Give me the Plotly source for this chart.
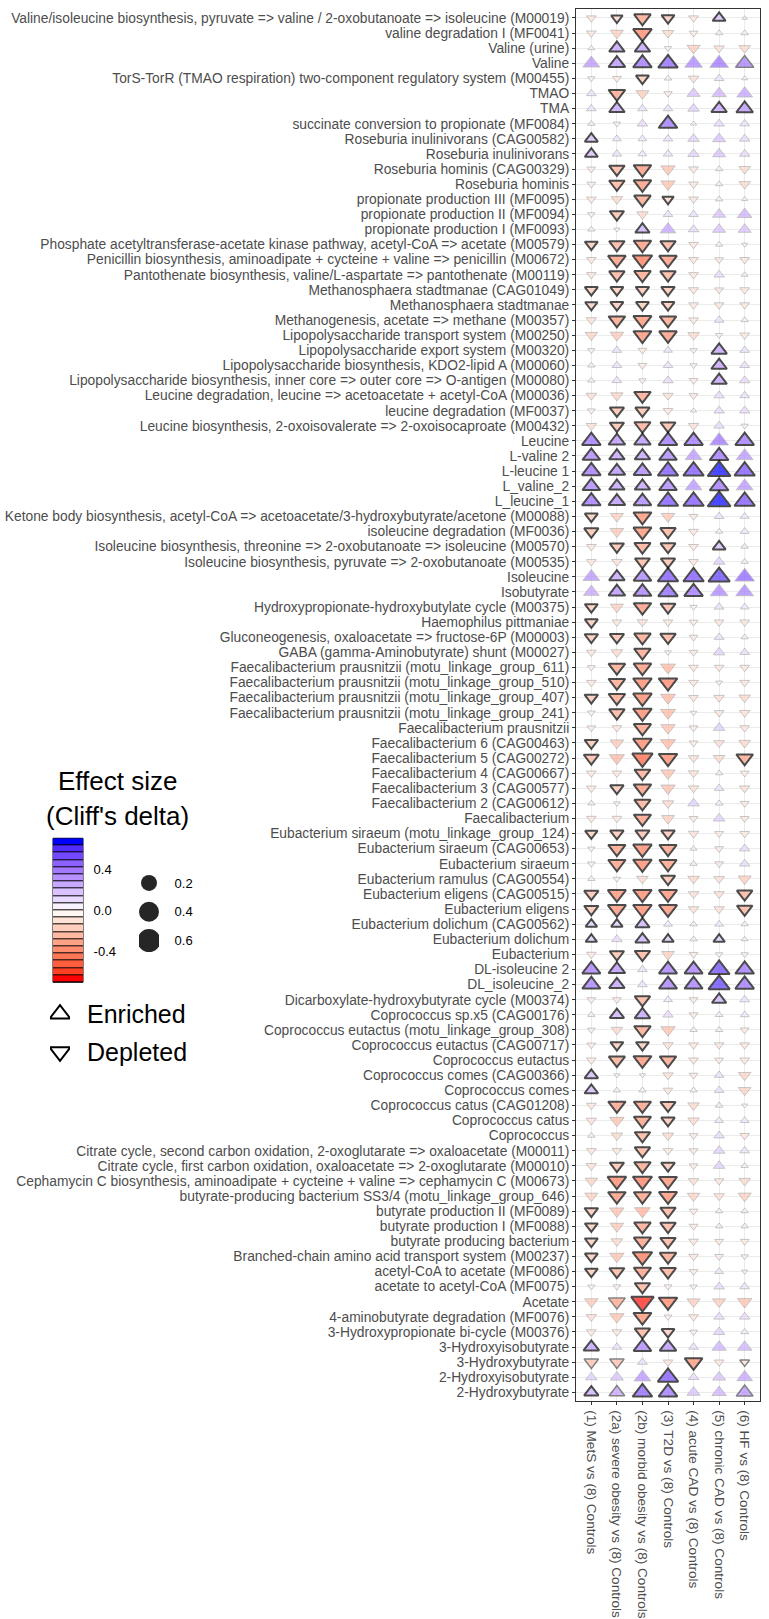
import numpy as np
import plotly.graph_objects as go

rows = [
    "Valine/isoleucine biosynthesis, pyruvate => valine / 2-oxobutanoate => isoleucine (M00019)",
    "valine degradation I (MF0041)",
    "Valine (urine)",
    "Valine",
    "TorS-TorR (TMAO respiration) two-component regulatory system (M00455)",
    "TMAO",
    "TMA",
    "succinate conversion to propionate (MF0084)",
    "Roseburia inulinivorans (CAG00582)",
    "Roseburia inulinivorans",
    "Roseburia hominis (CAG00329)",
    "Roseburia hominis",
    "propionate production III (MF0095)",
    "propionate production II (MF0094)",
    "propionate production I (MF0093)",
    "Phosphate acetyltransferase-acetate kinase pathway, acetyl-CoA => acetate (M00579)",
    "Penicillin biosynthesis, aminoadipate + cycteine + valine => penicillin (M00672)",
    "Pantothenate biosynthesis, valine/L-aspartate => pantothenate (M00119)",
    "Methanosphaera stadtmanae (CAG01049)",
    "Methanosphaera stadtmanae",
    "Methanogenesis, acetate => methane (M00357)",
    "Lipopolysaccharide transport system (M00250)",
    "Lipopolysaccharide export system (M00320)",
    "Lipopolysaccharide biosynthesis, KDO2-lipid A (M00060)",
    "Lipopolysaccharide biosynthesis, inner core => outer core => O-antigen (M00080)",
    "Leucine degradation, leucine => acetoacetate + acetyl-CoA (M00036)",
    "leucine degradation (MF0037)",
    "Leucine biosynthesis, 2-oxoisovalerate => 2-oxoisocaproate (M00432)",
    "Leucine",
    "L-valine 2",
    "L-leucine 1",
    "L_valine_2",
    "L_leucine_1",
    "Ketone body biosynthesis, acetyl-CoA => acetoacetate/3-hydroxybutyrate/acetone (M00088)",
    "isoleucine degradation (MF0036)",
    "Isoleucine biosynthesis, threonine => 2-oxobutanoate => isoleucine (M00570)",
    "Isoleucine biosynthesis, pyruvate => 2-oxobutanoate (M00535)",
    "Isoleucine",
    "Isobutyrate",
    "Hydroxypropionate-hydroxybutylate cycle (M00375)",
    "Haemophilus pittmaniae",
    "Gluconeogenesis, oxaloacetate => fructose-6P (M00003)",
    "GABA (gamma-Aminobutyrate) shunt (M00027)",
    "Faecalibacterium prausnitzii (motu_linkage_group_611)",
    "Faecalibacterium prausnitzii (motu_linkage_group_510)",
    "Faecalibacterium prausnitzii (motu_linkage_group_407)",
    "Faecalibacterium prausnitzii (motu_linkage_group_241)",
    "Faecalibacterium prausnitzii",
    "Faecalibacterium 6 (CAG00463)",
    "Faecalibacterium 5 (CAG00272)",
    "Faecalibacterium 4 (CAG00667)",
    "Faecalibacterium 3 (CAG00577)",
    "Faecalibacterium 2 (CAG00612)",
    "Faecalibacterium",
    "Eubacterium siraeum (motu_linkage_group_124)",
    "Eubacterium siraeum (CAG00653)",
    "Eubacterium siraeum",
    "Eubacterium ramulus (CAG00554)",
    "Eubacterium eligens (CAG00515)",
    "Eubacterium eligens",
    "Eubacterium dolichum (CAG00562)",
    "Eubacterium dolichum",
    "Eubacterium",
    "DL-isoleucine 2",
    "DL_isoleucine_2",
    "Dicarboxylate-hydroxybutyrate cycle (M00374)",
    "Coprococcus sp.x5 (CAG00176)",
    "Coprococcus eutactus (motu_linkage_group_308)",
    "Coprococcus eutactus (CAG00717)",
    "Coprococcus eutactus",
    "Coprococcus comes (CAG00366)",
    "Coprococcus comes",
    "Coprococcus catus (CAG01208)",
    "Coprococcus catus",
    "Coprococcus",
    "Citrate cycle, second carbon oxidation, 2-oxoglutarate => oxaloacetate (M00011)",
    "Citrate cycle, first carbon oxidation, oxaloacetate => 2-oxoglutarate (M00010)",
    "Cephamycin C biosynthesis, aminoadipate + cycteine + valine => cephamycin C (M00673)",
    "butyrate-producing bacterium SS3/4 (motu_linkage_group_646)",
    "butyrate production II (MF0089)",
    "butyrate production I (MF0088)",
    "butyrate producing bacterium",
    "Branched-chain amino acid transport system (M00237)",
    "acetyl-CoA to acetate (MF0086)",
    "acetate to acetyl-CoA (MF0075)",
    "Acetate",
    "4-aminobutyrate degradation (MF0076)",
    "3-Hydroxypropionate bi-cycle (M00376)",
    "3-Hydroxyisobutyrate",
    "3-Hydroxybutyrate",
    "2-Hydroxyisobutyrate",
    "2-Hydroxybutyrate",
]

groups = [
    "(1) MetS vs (8) Controls",
    "(2a) severe obesity vs (8) Controls",
    "(2b) morbid obesity vs (8) Controls",
    "(3) T2D vs (8) Controls",
    "(4) acute CAD vs (8) Controls",
    "(5) chronic CAD vs (8) Controls",
    "(6) HF vs (8) Controls",
]

# Cliff's delta per comparison (row order as above)
d_mets = [-0.1,-0.1,0.04,0.35,-0.05,0.1,0.1,0.05,0.2,0.2,-0.08,-0.08,-0.1,-0.05,0.05,-0.2,-0.1,-0.1,-0.2,-0.18,
          -0.12,-0.18,-0.05,0.05,0.05,-0.12,-0.06,-0.12,0.45,0.4,0.45,0.4,0.45,-0.2,-0.25,-0.1,-0.1,0.35,0.3,-0.2,
          -0.2,-0.22,-0.1,-0.06,-0.1,-0.22,-0.06,-0.08,-0.22,-0.28,-0.1,-0.1,0.05,-0.1,-0.18,-0.05,-0.06,0.05,-0.25,-0.25,
          0.15,0.15,-0.1,0.42,0.42,-0.08,0.05,-0.06,-0.08,-0.1,0.22,0.22,-0.1,-0.12,0.05,-0.1,-0.12,-0.18,-0.2,-0.22,
          -0.2,-0.2,-0.2,-0.2,-0.05,-0.22,-0.12,-0.1,0.3,-0.25,0.15,0.25]
d_sev = [-0.15,-0.2,0.3,0.35,-0.08,-0.35,0.3,-0.05,0.08,0.1,-0.3,-0.3,-0.15,-0.25,-0.03,-0.3,-0.4,-0.3,-0.2,-0.2,
         -0.35,-0.22,0.1,0.1,0.1,-0.18,-0.25,-0.25,0.35,0.3,0.35,0.3,0.35,-0.2,-0.22,-0.25,-0.12,0.3,0.35,-0.2,
         -0.1,-0.25,-0.15,-0.35,-0.35,-0.35,-0.3,-0.1,-0.22,-0.28,-0.1,-0.22,-0.04,-0.1,-0.22,-0.38,-0.38,-0.05,-0.42,-0.42,
         0.15,0.12,-0.25,0.35,0.3,-0.08,0.25,-0.15,-0.2,-0.33,-0.03,0.05,-0.38,-0.25,-0.15,-0.1,-0.25,-0.45,-0.4,-0.25,
         -0.22,-0.15,-0.25,-0.28,-0.06,-0.35,-0.25,-0.1,0.1,-0.25,0.2,0.3]
d_morb = [-0.35,-0.45,0.3,0.45,-0.2,-0.2,0.1,0.12,0.08,0.08,-0.4,-0.4,-0.35,-0.15,0.25,-0.4,-0.5,-0.35,-0.22,-0.2,
          -0.42,-0.42,-0.08,-0.08,-0.05,-0.35,-0.25,-0.33,0.35,0.3,0.4,0.3,0.4,-0.42,-0.42,-0.33,-0.28,0.4,0.42,-0.4,
          -0.12,-0.35,-0.35,-0.4,-0.45,-0.45,-0.45,-0.38,-0.45,-0.55,-0.32,-0.4,-0.33,-0.38,-0.25,-0.45,-0.45,-0.15,-0.45,-0.45,
          0.25,0.25,-0.3,0.1,0.1,-0.3,0.3,-0.35,-0.2,-0.42,-0.03,0.05,-0.38,-0.38,-0.3,-0.3,-0.35,-0.48,-0.38,-0.3,
          -0.35,-0.38,-0.5,-0.38,-0.3,-0.68,-0.42,-0.3,0.4,0.1,0.35,0.5]
d_t2d = [-0.2,-0.15,-0.05,0.5,0.05,-0.07,0.1,0.45,0.1,0.1,-0.25,-0.25,-0.15,0.1,0.3,-0.3,-0.4,-0.3,-0.22,-0.2,
         -0.35,-0.4,0.08,0.1,0.12,-0.12,-0.1,-0.28,0.45,0.4,0.55,0.4,0.55,-0.22,-0.3,-0.28,-0.25,0.55,0.5,-0.28,
         -0.1,-0.3,-0.04,-0.28,-0.45,-0.28,-0.28,-0.25,-0.28,-0.45,-0.25,-0.25,-0.15,-0.2,-0.22,-0.38,-0.38,-0.25,-0.42,-0.42,
         0.08,0.15,-0.2,0.42,0.42,0.08,0.12,-0.25,-0.12,-0.35,-0.12,-0.1,-0.28,-0.22,-0.15,-0.1,-0.22,-0.42,-0.42,-0.3,
         -0.3,-0.3,-0.35,-0.32,-0.06,-0.45,-0.06,-0.2,0.35,-0.1,0.55,0.45]
d_acad = [-0.1,-0.08,-0.2,0.4,-0.12,0.2,0.15,0.03,0.15,0.15,-0.1,-0.1,-0.1,0.1,0.12,-0.1,-0.1,-0.1,-0.1,-0.1,
          -0.1,-0.15,-0.05,-0.05,-0.08,-0.08,0.03,-0.12,0.45,0.35,0.55,0.35,0.55,-0.08,-0.1,-0.1,-0.1,0.55,0.45,-0.05,
          -0.08,-0.08,-0.08,-0.1,-0.1,-0.1,-0.04,-0.08,-0.08,-0.12,-0.12,-0.12,0.15,-0.08,-0.12,0.04,0.05,-0.15,-0.12,-0.12,
          0.05,0.05,-0.08,0.42,0.42,-0.08,-0.08,0.05,-0.1,-0.1,-0.08,0.05,-0.15,-0.15,-0.08,-0.08,-0.08,-0.12,-0.18,-0.08,
          -0.08,-0.1,-0.1,-0.08,-0.05,-0.2,-0.1,-0.06,0.1,-0.4,0.12,0.2]
d_ccad = [0.2,0.05,-0.12,0.45,0.1,0.25,0.3,0.12,0.2,0.2,0.05,0.05,0.05,0.2,0.2,0.05,-0.08,0.12,-0.08,-0.1,
          0.1,-0.05,0.3,0.3,0.3,0.12,0.12,0.12,0.45,0.45,0.7,0.45,0.7,0.1,0.05,0.2,0.15,0.6,0.4,0.1,
          -0.1,0.1,0.15,-0.1,-0.04,-0.12,-0.1,0.15,-0.12,-0.15,0.05,0.1,0.06,0.15,-0.08,-0.08,-0.08,-0.12,-0.12,-0.12,
          0.08,0.15,-0.05,0.58,0.6,0.25,0.06,0.05,-0.1,-0.08,0.1,0.1,0.06,0.08,0.12,0.15,0.15,-0.1,-0.12,0.05,
          0.05,-0.08,-0.08,0.08,0.12,-0.2,0.12,0.15,0.25,-0.1,0.2,0.25]
d_hf = [0.02,0.05,-0.15,0.42,0.03,0.3,0.35,0.1,0.12,0.12,-0.15,-0.15,0.03,0.25,0.2,-0.03,-0.1,0.04,-0.1,-0.1,
        0.05,-0.1,0.1,0.1,0.12,0.1,0.12,-0.05,0.45,0.35,0.55,0.35,0.55,0.08,0.08,0.05,0.05,0.5,0.4,0.08,
        -0.1,0.05,0.1,-0.1,-0.1,-0.15,-0.12,-0.1,-0.15,-0.35,-0.08,-0.12,-0.08,-0.08,-0.1,0.12,0.12,-0.2,-0.3,-0.3,
        0.05,0.04,-0.05,0.45,0.45,0.1,0.08,-0.08,-0.1,-0.1,-0.18,-0.18,-0.03,0.08,-0.1,0.1,0.05,-0.15,-0.2,0.05,
        0.05,-0.08,-0.05,-0.03,0.1,-0.25,0.12,0.06,0.25,-0.1,0.3,0.35]

# significance: 0 = not significant, 1 = nominal, 2 = significant
s_mets = [0,0,0,0,0,0,0,0,2,2,0,0,0,0,0,2,0,0,2,2, 0,0,0,0,0,0,0,0,2,2,2,2,2,2,2,0,0,0,0,2,
          2,2,0,0,0,2,0,0,2,2,0,0,0,0,2,0,0,0,2,2, 2,2,0,2,2,0,0,0,0,0,2,2,0,0,0,0,0,0,0,2,
          2,2,2,2,0,0,0,0,2,1,0,2]
s_sev = [2,0,2,2,0,2,2,0,0,0,2,2,0,2,0,2,2,2,2,2, 2,0,0,0,0,0,2,2,2,2,2,2,2,0,0,2,0,2,2,0,
         0,2,0,2,2,2,2,0,0,0,0,2,0,0,2,2,2,0,2,2, 2,0,2,2,2,0,2,0,2,2,0,0,2,0,0,0,2,2,2,0,
         0,0,0,2,0,1,0,0,0,1,0,1]
s_morb = [2,2,2,2,2,0,0,0,0,0,2,2,2,0,2,2,2,2,2,2, 2,2,0,0,0,2,2,2,2,2,2,2,2,2,2,2,2,2,2,2,
          0,2,2,2,2,2,2,2,2,2,2,2,2,2,2,2,2,0,2,2, 2,2,2,0,0,2,2,2,2,2,0,0,2,2,2,2,2,2,2,0,
          2,2,2,2,2,2,2,2,2,0,0,2]
s_t2d = [2,0,0,2,0,0,0,2,0,0,0,0,2,0,0,2,2,2,2,2, 2,2,0,0,0,0,0,2,2,2,2,2,2,0,2,2,2,2,2,2,
         0,2,0,0,2,0,0,0,0,2,0,0,0,0,2,2,2,2,2,2, 0,2,0,2,2,0,0,0,0,2,0,0,2,2,0,0,2,2,2,2,
         2,2,2,2,0,2,0,2,2,0,2,2]
s_acad = [0,0,0,0,0,0,0,0,0,0,0,0,0,0,0,0,0,0,0,0, 0,0,0,0,0,0,0,0,2,0,2,0,2,0,0,0,0,2,2,0,
          0,0,0,0,0,0,0,0,0,0,0,0,0,0,0,0,0,0,0,0, 0,0,0,2,2,0,0,0,0,0,0,0,0,0,0,0,0,0,0,0,
          0,0,0,0,0,0,0,0,0,2,0,0]
s_ccad = [2,0,0,0,0,0,2,0,0,0,0,0,0,0,0,0,0,0,0,0, 0,0,2,2,2,0,0,0,0,2,2,2,2,0,0,2,0,2,0,0,
          0,0,0,0,0,0,0,0,0,0,0,0,0,0,0,0,0,0,0,0, 0,2,0,2,2,2,0,0,0,0,0,0,0,0,0,0,0,0,0,0,
          0,0,0,0,0,0,0,0,0,0,0,0]
s_hf = [0,0,0,1,0,0,2,0,0,0,0,0,0,0,0,0,0,0,0,0, 0,0,0,0,0,0,0,0,2,0,2,0,2,0,0,0,0,0,0,0,
        0,0,0,0,0,0,0,0,0,2,0,0,0,0,0,0,0,0,2,2, 0,0,0,2,2,0,0,0,0,0,0,0,0,0,0,0,0,0,0,0,
        0,0,0,0,0,0,0,0,0,1,0,1]

size_breaks = [0.2, 0.4, 0.6]
direction_labels = ["Enriched", "Depleted"]
colorbar_ticks = [-0.4, 0.0, 0.4]

# ---------- colour scale: red - white - blue, interpolated in CIE Lab ----------
def _hex2rgb(h):
    h = h.lstrip('#')
    return [int(h[i:i + 2], 16) / 255 for i in (0, 2, 4)]

def _to_lab(h):
    rgb = [c / 12.92 if c <= 0.04045 else ((c + 0.055) / 1.055) ** 2.4 for c in _hex2rgb(h)]
    r, g, b = rgb
    X = (0.4124564 * r + 0.3575761 * g + 0.1804375 * b) / 0.95047
    Y = 0.2126729 * r + 0.7151522 * g + 0.0721750 * b
    Z = (0.0193339 * r + 0.1191920 * g + 0.9503041 * b) / 1.08883
    f = lambda t: t ** (1 / 3) if t > 0.008856 else 7.787 * t + 16 / 116
    return [116 * f(Y) - 16, 500 * (f(X) - f(Y)), 200 * (f(Y) - f(Z))]

def _from_lab(L, a, b):
    fy = (L + 16) / 116
    fx, fz = fy + a / 500, fy - b / 200
    inv = lambda t: t ** 3 if t ** 3 > 0.008856 else (t - 16 / 116) / 7.787
    X, Y, Z = inv(fx) * 0.95047, inv(fy), inv(fz) * 1.08883
    r = 3.2404542 * X - 1.5371385 * Y - 0.4985314 * Z
    g = -0.9692660 * X + 1.8760108 * Y + 0.0415560 * Z
    bb = 0.0556434 * X - 0.2040259 * Y + 1.0572252 * Z
    out = []
    for c in (r, g, bb):
        c = 12.92 * c if c <= 0.0031308 else 1.055 * c ** (1 / 2.4) - 0.055
        out.append(int(round(min(max(c, 0), 1) * 255)))
    return "rgb(%d,%d,%d)" % tuple(out)

def _mix(h1, h2, t):
    l1, l2 = _to_lab(h1), _to_lab(h2)
    return _from_lab(*[a + (b - a) * t for a, b in zip(l1, l2)])

colorscale = []
n = 10
for i in range(n + 1):
    colorscale.append([0.5 * i / n, _mix("#FF0000", "#FFFFFF", i / n)])
for i in range(1, n + 1):
    colorscale.append([0.5 + 0.5 * i / n, _mix("#FFFFFF", "#0000FF", i / n)])
CMIN, CMAX = -0.7, 0.7

# ---------- build the grid of markers ----------
cols_d = [d_mets, d_sev, d_morb, d_t2d, d_acad, d_ccad, d_hf]
cols_s = [s_mets, s_sev, s_morb, s_t2d, s_acad, s_ccad, s_hf]
xs, ys, vs, ss = [], [], [], []
for g, dv, sv in zip(groups, cols_d, cols_s):
    for r, v, s in zip(rows, dv, sv):
        xs.append(g); ys.append(r); vs.append(v); ss.append(s)

line_col = {0: "#9c9c9c", 1: "#505050", 2: "#000000"}
line_w = {0: 0.8, 1: 1.5, 2: 2.0}

def tri_size(v):
    return 1.5 + 22 * np.sqrt(abs(v))

FONT = "Liberation Sans, Arial, Helvetica, sans-serif"
W, H = 769, 1619

fig = go.Figure()
fig.add_trace(go.Scatter(
    x=xs, y=ys, mode="markers", xaxis="x", yaxis="y",
    marker=dict(
        symbol=["triangle-up" if v > 0 else "triangle-down" for v in vs],
        size=[tri_size(v) for v in vs],
        color=vs, colorscale=colorscale, cmin=CMIN, cmax=CMAX,
        line=dict(color=[line_col[s] for s in ss], width=[line_w[s] for s in ss]),
    ),
    hovertemplate="%{y}<br>%{x}<br>delta=%{marker.color}<extra></extra>",
    showlegend=False,
))

# colour bar (stepped) in its own axes
edges = np.linspace(CMIN, CMAX, 21)
bins = np.linspace(CMIN, CMAX, 20)
fig.add_trace(go.Heatmap(
    x=[0, 1], y=edges, z=[[b] for b in bins], xaxis="x2", yaxis="y2",
    colorscale=colorscale, zmin=CMIN, zmax=CMAX, showscale=False, ygap=1,
    hoverinfo="skip",
))

# size legend
fig.add_trace(go.Scatter(
    x=[0] * len(size_breaks), y=[f"{b:.1f}" for b in size_breaks], xaxis="x3", yaxis="y3",
    mode="markers", hoverinfo="skip", showlegend=False,
    marker=dict(symbol="circle", color="#262626", opacity=1,
                size=[6.3 + 18.1 * np.sqrt(b / 0.7) for b in size_breaks], line=dict(width=0)),
))

# direction legend
fig.add_trace(go.Scatter(
    x=[0, 0], y=direction_labels, xaxis="x4", yaxis="y4",
    mode="markers", hoverinfo="skip", showlegend=False,
    marker=dict(symbol=["triangle-up", "triangle-down"], size=18, color="white",
                line=dict(color="black", width=2)),
))

def px_x(a, b):
    return [a / W, b / W]

def px_y(top, bottom):
    return [1 - bottom / H, 1 - top / H]

grid = "#ebebeb"
fig.update_layout(
    width=W, height=H, margin=dict(l=0, r=0, t=0, b=0),
    paper_bgcolor="white", plot_bgcolor="white",
    font=dict(family=FONT, color="#4d4d4d", size=12),
    xaxis=dict(domain=px_x(576, 760), type="category", categoryorder="array", categoryarray=groups,
               tickmode="array", tickvals=groups, ticktext=groups,
               range=[-0.6, len(groups) - 0.4], tickangle=90, tickfont=dict(size=13.6, color="#4d4d4d"),
               ticks="outside", ticklen=3, tickcolor="#333333", tickwidth=0.6, ticklabelstandoff=2,
               showgrid=True, gridcolor=grid, gridwidth=0.6, zeroline=False,
               showline=True, mirror=True, linecolor="#333333", linewidth=1, anchor="y"),
    yaxis=dict(domain=px_y(9, 1411), type="category", categoryorder="array", categoryarray=rows,
               tickmode="array", tickvals=rows, ticktext=rows,
               range=[len(rows) - 0.4, -0.6], tickfont=dict(size=13.8, color="#4d4d4d"),
               ticks="outside", ticklen=3, tickcolor="#333333", tickwidth=0.6,
               showgrid=True, gridcolor=grid, gridwidth=0.6, zeroline=False,
               showline=True, mirror=True, linecolor="#333333", linewidth=1, anchor="x"),
    xaxis2=dict(domain=px_x(53, 83), range=[0, 1], visible=False, anchor="y2", fixedrange=True),
    yaxis2=dict(domain=px_y(844, 989), range=[CMIN, CMAX], side="right", anchor="x2",
                tickvals=colorbar_ticks, ticktext=[f"{t:.1f}" for t in colorbar_ticks],
                tickfont=dict(size=13, color="black"), ticks="outside", ticklen=7,
                tickcolor="rgba(0,0,0,0)", showgrid=False, zeroline=False, showline=False, fixedrange=True),
    xaxis3=dict(domain=px_x(139, 159), range=[-1, 1], visible=False, anchor="y3", fixedrange=True),
    yaxis3=dict(domain=px_y(874.5, 961.5), type="category", range=[2.5, -0.5], side="right", anchor="x3",
                tickfont=dict(size=13, color="black"), ticks="outside", ticklen=12,
                tickcolor="rgba(0,0,0,0)", showgrid=False, zeroline=False, showline=False, fixedrange=True),
    xaxis4=dict(domain=px_x(50, 70), range=[-1, 1], visible=False, anchor="y4", fixedrange=True),
    yaxis4=dict(domain=px_y(1002, 1078), type="category", categoryorder="array",
                categoryarray=direction_labels, range=[1.5, -0.5], side="right", anchor="x4",
                tickfont=dict(size=25, color="black"), ticks="outside", ticklen=11,
                tickcolor="rgba(0,0,0,0)", showgrid=False, zeroline=False, showline=False, fixedrange=True),
    shapes=[dict(type="rect", xref="x2 domain", yref="y2 domain", x0=0, x1=1, y0=0, y1=1,
                 fillcolor="black", line=dict(color="black", width=1), layer="below")],
    annotations=[
        dict(text="Effect size", x=117 / W, y=1 - 786 / H, xref="paper", yref="paper",
             xanchor="center", yanchor="middle", showarrow=False, font=dict(size=26, color="black")),
        dict(text="(Cliff's delta)", x=117 / W, y=1 - 822 / H, xref="paper", yref="paper",
             xanchor="center", yanchor="middle", showarrow=False, font=dict(size=26, color="black")),
    ],
)

fig.write_html("out.html", config={"displayModeBar": False},
               post_script="document.body.style.margin='0';document.body.style.overflow='hidden';")
